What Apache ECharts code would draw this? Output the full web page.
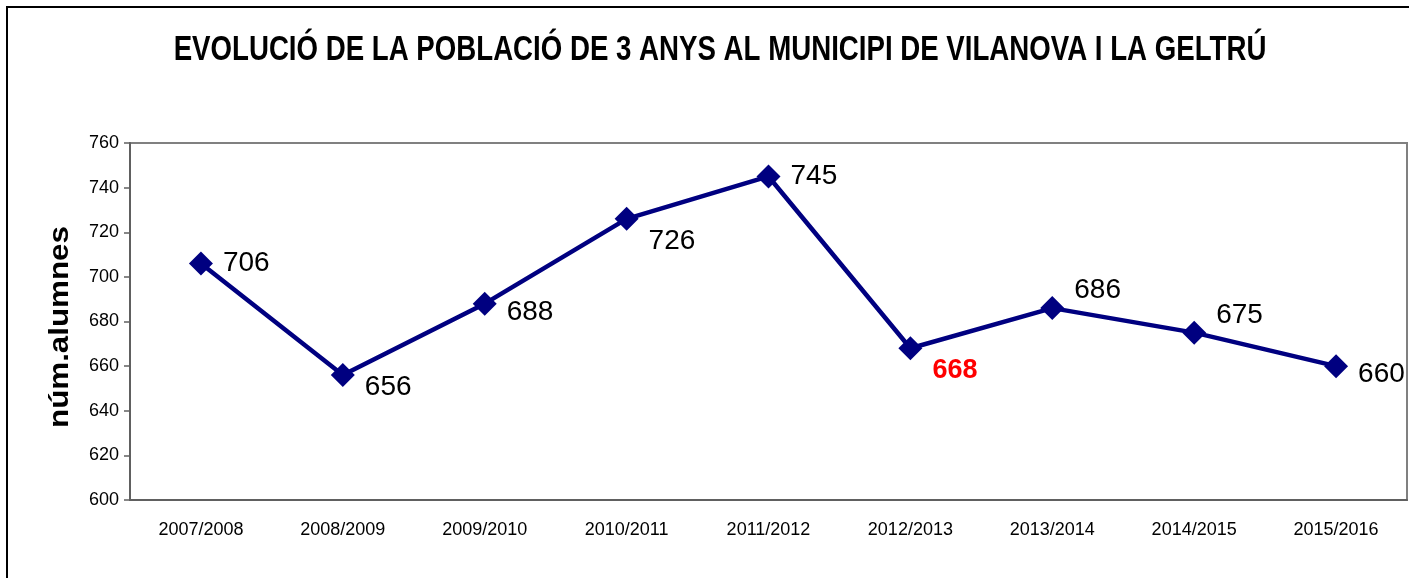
<!DOCTYPE html>
<html>
<head>
<meta charset="utf-8">
<script src="https://cdn.jsdelivr.net/npm/echarts@6/dist/echarts.min.js"></script>
<style>
  html, body { margin: 0; padding: 0; background: #fff; }
  #chart { width: 1409px; height: 578px; }
</style>
</head>
<body>
<div id="chart"></div>
<script>
// 学年
const cursos = ['2007/2008', '2008/2009', '2009/2010', '2010/2011', '2011/2012',
  '2012/2013', '2013/2014', '2014/2015', '2015/2016'];
// 3岁人口（学生数）
const alumnes = [706, 656, 688, 726, 745, 668, 686, 675, 660];
// 高亮的那个点
const destacat = '2012/2013';
const titol = 'EVOLUCIÓ DE LA POBLACIÓ DE 3 ANYS AL MUNICIPI DE VILANOVA I LA GELTRÚ';
const nomEixY = 'núm.alumnes';

// 标签的垂直偏移（像素），只管样式
const labelDy = [0, 12, 9, 22, 0, 22, -18, -17, 8];

const chart = echarts.init(document.getElementById('chart'), null, { renderer: 'canvas' });

const seriesData = alumnes.map((v, i) => {
  const hi = cursos[i] === destacat;
  return {
    value: v,
    label: {
      offset: [0, labelDy[i]],
      color: hi ? '#ff0000' : '#000',
      fontWeight: hi ? 'bold' : 'normal',
      fontSize: hi ? 27 : 28
    }
  };
});

const option = {
  animation: false,
  graphic: [
    {
      // 外框
      type: 'rect',
      shape: { x: 7, y: 7, width: 1450, height: 620 },
      style: { fill: 'none', stroke: '#000', lineWidth: 2 },
      silent: true
    },
    {
      // 标题，字体压窄一点
      type: 'text',
      x: 720,
      y: 50,
      scaleX: 0.79,
      style: {
        text: titol,
        font: 'bold 35px "Liberation Sans", Arial',
        fill: '#000',
        textAlign: 'center',
        textVerticalAlign: 'middle',
        align: 'center',
        verticalAlign: 'middle'
      },
      silent: true
    },
    {
      // y轴名称
      type: 'text',
      x: 61,
      y: 327,
      rotation: Math.PI / 2,
      scaleX: 1.16,
      style: {
        text: nomEixY,
        font: 'bold 27px "Liberation Sans", Arial',
        fill: '#000',
        textAlign: 'center',
        textVerticalAlign: 'middle',
        align: 'center',
        verticalAlign: 'middle'
      },
      silent: true
    }
  ],
  grid: {
    left: 130, right: 2, top: 143, bottom: 78,
    show: true,
    borderColor: '#808080',
    borderWidth: 2,
    backgroundColor: 'transparent'
  },
  xAxis: {
    type: 'category',
    data: cursos,
    axisLine: { lineStyle: { color: '#606060', width: 2 } },
    axisTick: { lineStyle: { color: '#606060', width: 1.5 }, length: 6 },
    axisLabel: {
      margin: 21,
      fontFamily: '"Liberation Sans", Arial',
      fontSize: 18,
      color: '#000'
    }
  },
  yAxis: {
    type: 'value',
    min: 600,
    max: 760,
    interval: 20,
    axisLine: { show: true, lineStyle: { color: '#606060', width: 2 } },
    axisTick: { show: true, length: 6, lineStyle: { color: '#606060', width: 1.5 } },
    splitLine: { show: false },
    axisLabel: {
      margin: 11,
      fontFamily: '"Liberation Sans", Arial',
      fontSize: 18,
      color: '#000'
    }
  },
  series: [{
    type: 'line',
    data: seriesData,
    symbol: 'diamond',
    symbolSize: 24,
    lineStyle: { color: '#000080', width: 4.5 },
    itemStyle: { color: '#000080' },
    label: {
      show: true,
      position: 'right',
      distance: 10,
      fontFamily: '"Liberation Sans", Arial'
    }
  }]
};

chart.setOption(option);
</script>
</body>
</html>
